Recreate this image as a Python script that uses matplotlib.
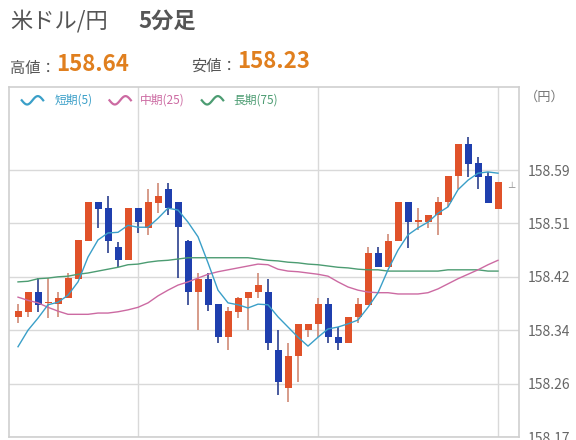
import numpy as np
import matplotlib.pyplot as plt

plt.rcParams['font.family'] = ['Noto Sans CJK JP', 'DejaVu Sans']

# 5分足 OHLC
opens = [158.359, 158.367, 158.398, 158.381, 158.379, 158.389, 158.419, 158.478, 158.540, 158.530,
         158.469, 158.448, 158.530, 158.499, 158.538, 158.560, 158.540, 158.478, 158.398, 158.419,
         158.379, 158.327, 158.367, 158.389, 158.398, 158.398, 158.307, 158.247, 158.297, 158.338,
         158.348, 158.379, 158.327, 158.318, 158.359, 158.378, 158.459, 158.437, 158.478, 158.540,
         158.508, 158.508, 158.519, 158.540, 158.581, 158.631, 158.601, 158.581, 158.529]
highs = [158.379, 158.398, 158.420, 158.420, 158.398, 158.428, 158.480, 158.540, 158.540, 158.549,
         158.477, 158.530, 158.530, 158.560, 158.570, 158.570, 158.540, 158.480, 158.428, 158.428,
         158.379, 158.374, 158.390, 158.398, 158.428, 158.419, 158.338, 158.318, 158.348, 158.348,
         158.389, 158.389, 158.343, 158.359, 158.389, 158.469, 158.469, 158.489, 158.540, 158.540,
         158.530, 158.519, 158.548, 158.581, 158.631, 158.642, 158.610, 158.587, 158.571]
lows = [158.349, 158.359, 158.367, 158.357, 158.359, 158.389, 158.419, 158.478, 158.499, 158.459,
        158.437, 158.448, 158.491, 158.488, 158.522, 158.519, 158.420, 158.378, 158.338, 158.368,
        158.318, 158.307, 158.357, 158.338, 158.389, 158.307, 158.236, 158.225, 158.257, 158.327,
        158.327, 158.318, 158.307, 158.318, 158.349, 158.378, 158.437, 158.437, 158.478, 158.467,
        158.496, 158.499, 158.488, 158.532, 158.560, 158.579, 158.560, 158.538, 158.529]
closes = [158.368, 158.398, 158.378, 158.382, 158.389, 158.420, 158.480, 158.540, 158.529, 158.478,
          158.448, 158.530, 158.508, 158.540, 158.549, 158.530, 158.500, 158.398, 158.419, 158.378,
          158.327, 158.368, 158.389, 158.398, 158.409, 158.318, 158.257, 158.297, 158.348, 158.348,
          158.379, 158.327, 158.318, 158.359, 158.379, 158.459, 158.437, 158.478, 158.540, 158.508,
          158.511, 158.519, 158.540, 158.581, 158.631, 158.599, 158.579, 158.538, 158.571]

# moving averages
ma_short = [158.312, 158.338, 158.357, 158.378, 158.382, 158.393, 158.414, 158.453, 158.480, 158.491,
            158.492, 158.503, 158.500, 158.500, 158.514, 158.530, 158.527, 158.508, 158.485, 158.444,
            158.401, 158.381, 158.378, 158.373, 158.379, 158.378, 158.359, 158.343, 158.327, 158.313,
            158.327, 158.340, 158.343, 158.348, 158.354, 158.374, 158.397, 158.433, 158.464, 158.488,
            158.499, 158.508, 158.522, 158.532, 158.559, 158.574, 158.585, 158.587, 158.585]
ma_mid = [158.390, 158.385, 158.381, 158.374, 158.368, 158.363, 158.363, 158.363, 158.365, 158.365,
          158.367, 158.370, 158.374, 158.381, 158.392, 158.401, 158.409, 158.414, 158.420, 158.426,
          158.430, 158.433, 158.436, 158.439, 158.442, 158.441, 158.434, 158.431, 158.430, 158.428,
          158.426, 158.423, 158.414, 158.406, 158.401, 158.398, 158.397, 158.397, 158.395, 158.395,
          158.395, 158.397, 158.403, 158.411, 158.419, 158.426, 158.433, 158.441, 158.448]
ma_long = [158.414, 158.415, 158.419, 158.420, 158.422, 158.423, 158.426, 158.428, 158.431, 158.434,
           158.437, 158.441, 158.442, 158.445, 158.447, 158.448, 158.450, 158.452, 158.452, 158.452,
           158.452, 158.452, 158.452, 158.452, 158.450, 158.448, 158.447, 158.445, 158.444, 158.442,
           158.441, 158.439, 158.437, 158.436, 158.434, 158.433, 158.433, 158.431, 158.431, 158.431,
           158.431, 158.431, 158.431, 158.433, 158.433, 158.433, 158.433, 158.431, 158.431]

tick_values = [158.170, 158.254, 158.338, 158.422, 158.506, 158.590]
tick_labels = ['158.17', '158.26', '158.34', '158.42', '158.51', '158.59']
high_text = '158.64'
low_text = '158.23'

red = '#e0522a'
blue = '#1f3fae'
c_short = '#3a9fc8'
c_mid = '#cc6aa2'
c_long = '#4c9c72'

fig = plt.figure(figsize=(5.76, 4.4), dpi=100)
ax = fig.add_axes([9 / 576, 3 / 440, 510 / 576, 350 / 440])

x = np.arange(len(opens))
o = np.array(opens)
c = np.array(closes)
up = c >= o
body_bottom = np.minimum(o, c)
body_h = np.maximum(np.abs(c - o), 0.0008)

wick_cols = np.where(up, '#cf8a76', '#2b3f8e')
ax.vlines(x, lows, highs, colors=wick_cols, linewidth=1.2, zorder=2)
ax.bar(x, body_h, bottom=body_bottom, width=0.7,
       color=np.where(up, red, blue), zorder=3, linewidth=0)

ax.plot(x, ma_long, color=c_long, linewidth=1.0, zorder=4)
ax.plot(x, ma_mid, color=c_mid, linewidth=1.0, zorder=4)
ax.plot(x, ma_short, color=c_short, linewidth=1.0, zorder=4)

ax.set_xlim(-0.9, 50.1)
ax.set_ylim(158.170, 158.7206)
ax.set_xticks([12, 30, 48])
ax.set_xticklabels([])
ax.yaxis.tick_right()
ax.set_yticks(tick_values)
ax.set_yticklabels(tick_labels)
ax.tick_params(axis='y', length=0, pad=6, labelsize=10, labelcolor='#666666')
ax.tick_params(axis='x', length=0)
ax.grid(True, color='#d9d9d9', linewidth=1.0)
ax.set_axisbelow(True)
for s in ax.spines.values():
    s.set_color('#cfcfcf')
    s.set_linewidth(1.2)

# legend with little wave icons
t = np.linspace(0, 1, 30)
wave = 0.012 * np.sin(t * 2 * np.pi + np.pi)
legend = [('短期(5)', c_short, 0.025, 0.09), ('中期(25)', c_mid, 0.197, 0.257),
          ('長期(75)', c_long, 0.378, 0.44)]
for label, col, x0, xt in legend:
    ax.plot(x0 + t * 0.042, 0.962 + wave, color=col, linewidth=1.6,
            transform=ax.transAxes, clip_on=False, zorder=5)
    ax.text(xt, 0.962, label, color=col, fontsize=8.5, va='center', ha='left',
            transform=ax.transAxes)

ax.text(48.9, 158.565, '⊥', fontsize=6, color='#888888', va='center', ha='left')

fig.text(525 / 576, 1 - 97 / 440, '（円）', fontsize=9.5, color='#777777', va='center', ha='left')

# header
fig.text(10 / 576, 1 - 21 / 440, '米ドル/円', fontsize=16, color='#555555', va='center', ha='left')
fig.text(138 / 576, 1 - 21 / 440, '5分足', fontsize=16, color='#555555', fontweight='bold',
         va='center', ha='left')
fig.text(10 / 576, 1 - 68 / 440, '高値：', fontsize=11, color='#555555', va='center', ha='left')
fig.text(56 / 576, 1 - 64 / 440, high_text, fontsize=16, color='#e07f1e', fontweight='bold',
         va='center', ha='left')
fig.text(191 / 576, 1 - 66 / 440, '安値：', fontsize=11, color='#555555', va='center', ha='left')
fig.text(237 / 576, 1 - 62 / 440, low_text, fontsize=16, color='#e07f1e', fontweight='bold',
         va='center', ha='left')

fig.savefig('out.png', dpi=100)
